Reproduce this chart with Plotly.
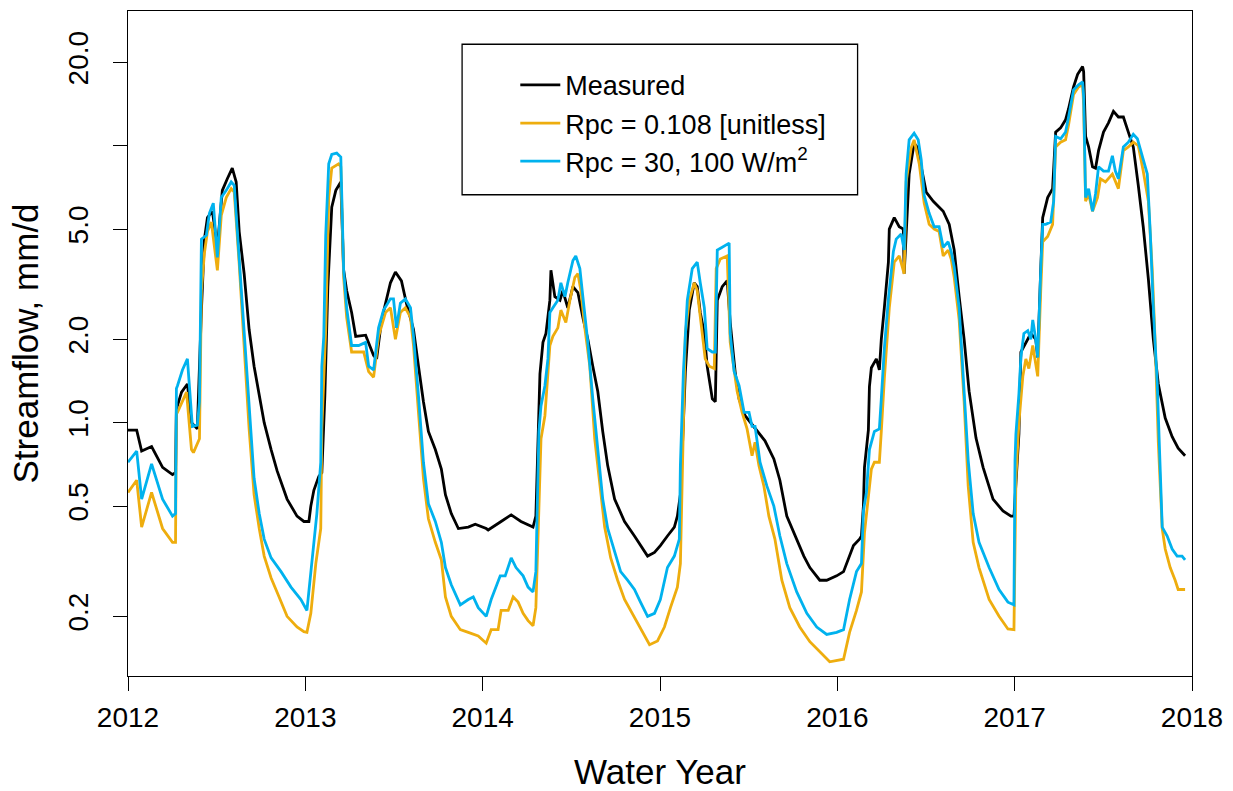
import plotly.graph_objects as go

# ---------------- data ----------------
measured_year = [
    2012.000, 2012.049, 2012.077, 2012.133, 2012.195, 2012.251, 2012.268, 2012.273, 2012.302, 2012.335,
    2012.358, 2012.391, 2012.414, 2012.431, 2012.448, 2012.476, 2012.504, 2012.532, 2012.560, 2012.588,
    2012.610, 2012.627, 2012.655, 2012.683, 2012.711, 2012.740, 2012.768, 2012.807, 2012.841, 2012.897,
    2012.953, 2012.992, 2013.020, 2013.031, 2013.048, 2013.076, 2013.093, 2013.110, 2013.127, 2013.149,
    2013.172, 2013.200, 2013.216, 2013.233, 2013.261, 2013.284, 2013.340, 2013.385, 2013.402, 2013.430,
    2013.480, 2013.508, 2013.542, 2013.570, 2013.610, 2013.638, 2013.666, 2013.694, 2013.733, 2013.767,
    2013.790, 2013.823, 2013.863, 2013.919, 2013.958, 2014.020, 2014.031, 2014.104, 2014.161, 2014.216,
    2014.284, 2014.300, 2014.312, 2014.323, 2014.340, 2014.357, 2014.379, 2014.385, 2014.407, 2014.436,
    2014.452, 2014.480, 2014.509, 2014.537, 2014.565, 2014.593, 2014.621, 2014.649, 2014.677, 2014.705,
    2014.744, 2014.800, 2014.856, 2014.890, 2014.930, 2014.969, 2015.002, 2015.042, 2015.081, 2015.098,
    2015.115, 2015.132, 2015.143, 2015.165, 2015.193, 2015.210, 2015.227, 2015.250, 2015.266, 2015.295,
    2015.312, 2015.323, 2015.351, 2015.379, 2015.396, 2015.424, 2015.446, 2015.480, 2015.547, 2015.592,
    2015.642, 2015.676, 2015.715, 2015.771, 2015.811, 2015.845, 2015.901, 2015.940, 2015.996, 2016.035,
    2016.069, 2016.091, 2016.125, 2016.136, 2016.147, 2016.153, 2016.175, 2016.181, 2016.192, 2016.220,
    2016.237, 2016.248, 2016.265, 2016.288, 2016.293, 2016.321, 2016.349, 2016.372, 2016.377, 2016.388,
    2016.405, 2016.433, 2016.456, 2016.473, 2016.501, 2016.541, 2016.597, 2016.631, 2016.659, 2016.687,
    2016.715, 2016.743, 2016.782, 2016.822, 2016.878, 2016.934, 2016.979, 2016.996, 2017.007, 2017.019,
    2017.024, 2017.035, 2017.063, 2017.091, 2017.119, 2017.130, 2017.147, 2017.158, 2017.186, 2017.214,
    2017.231, 2017.259, 2017.287, 2017.304, 2017.332, 2017.355, 2017.383, 2017.389, 2017.400, 2017.417,
    2017.439, 2017.456, 2017.473, 2017.501, 2017.529, 2017.557, 2017.585, 2017.613, 2017.641, 2017.669,
    2017.697, 2017.725, 2017.754, 2017.782, 2017.810, 2017.849, 2017.888, 2017.922, 2017.961,
]
measured_flow = [
    0.94, 0.94, 0.79, 0.82, 0.69, 0.65, 0.66, 1.12, 1.29, 1.38,
    1.00, 0.95, 2.55, 4.6, 5.5, 5.8, 4.3, 6.9, 7.6, 8.3,
    7.4, 4.9, 3.45, 2.17, 1.6, 1.25, 1.0, 0.80, 0.67, 0.53,
    0.46, 0.44, 0.44, 0.50, 0.57, 0.64, 0.66, 1.25, 3.1, 6.0,
    6.9, 7.4, 3.55, 3.0, 2.5, 2.05, 2.07, 1.75, 1.7, 2.35,
    3.2, 3.5, 3.25, 2.7, 2.17, 1.6, 1.19, 0.93, 0.80, 0.68,
    0.55, 0.47, 0.415, 0.42, 0.43, 0.415, 0.41, 0.44, 0.465, 0.44,
    0.42, 0.46, 0.95, 1.5, 1.95, 2.1, 2.77, 3.55, 2.85, 2.77,
    3.0, 2.6, 3.1, 2.95, 2.4, 2.0, 1.6, 1.3, 0.93, 0.70,
    0.53, 0.44, 0.39, 0.36, 0.33, 0.34, 0.36, 0.39, 0.42, 0.46,
    0.55, 1.0, 1.53, 2.55, 3.2, 3.1, 2.5, 2.1, 1.6, 1.22,
    1.19, 2.77, 3.1, 3.26, 2.3, 1.52, 1.22, 1.06, 0.93, 0.86,
    0.74, 0.62, 0.46, 0.38, 0.33, 0.30, 0.27, 0.27, 0.28, 0.29,
    0.33, 0.36, 0.38, 0.39, 0.50, 0.69, 0.94, 1.35, 1.58, 1.70,
    1.55, 2.0, 2.6, 3.8, 5.0, 5.5, 5.1, 5.0, 3.45, 5.0,
    7.9, 10.2, 9.8, 8.4, 6.8, 6.3, 5.8, 5.2, 4.2, 2.85,
    2.0, 1.3, 0.88, 0.69, 0.53, 0.48, 0.46, 0.46, 0.63, 0.80,
    0.91, 1.8, 1.95, 2.1, 2.0, 1.72, 3.55, 5.5, 6.5, 7.0,
    11.2, 11.6, 12.4, 13.6, 16.3, 18.1, 19.3, 18.5, 10.8, 9.9,
    8.4, 8.3, 9.6, 11.2, 12.1, 13.3, 12.7, 12.7, 11.2, 9.9,
    7.2, 5.1, 3.3, 2.0, 1.38, 1.04, 0.89, 0.81, 0.76,
]

rpc_unitless_year = [
    2012.000, 2012.049, 2012.077, 2012.133, 2012.195, 2012.251, 2012.268, 2012.273, 2012.279, 2012.330,
    2012.358, 2012.369, 2012.403, 2012.414, 2012.431, 2012.448, 2012.470, 2012.504, 2012.526, 2012.554,
    2012.582, 2012.599, 2012.627, 2012.655, 2012.683, 2012.711, 2012.740, 2012.768, 2012.807, 2012.852,
    2012.897, 2012.953, 2012.992, 2013.009, 2013.031, 2013.059, 2013.087, 2013.093, 2013.115, 2013.132,
    2013.149, 2013.188, 2013.200, 2013.216, 2013.233, 2013.261, 2013.329, 2013.357, 2013.385, 2013.413,
    2013.452, 2013.480, 2013.508, 2013.536, 2013.564, 2013.593, 2013.610, 2013.638, 2013.666, 2013.694,
    2013.733, 2013.767, 2013.790, 2013.823, 2013.874, 2013.919, 2013.975, 2014.020, 2014.048, 2014.087,
    2014.104, 2014.144, 2014.172, 2014.200, 2014.228, 2014.256, 2014.284, 2014.300, 2014.317, 2014.329,
    2014.351, 2014.368, 2014.379, 2014.396, 2014.424, 2014.441, 2014.469, 2014.492, 2014.520, 2014.537,
    2014.554, 2014.576, 2014.604, 2014.632, 2014.660, 2014.688, 2014.722, 2014.761, 2014.800, 2014.834,
    2014.873, 2014.913, 2014.941, 2014.986, 2015.025, 2015.059, 2015.098, 2015.115, 2015.132, 2015.143,
    2015.165, 2015.193, 2015.210, 2015.227, 2015.255, 2015.278, 2015.306, 2015.317, 2015.340, 2015.379,
    2015.396, 2015.435, 2015.463, 2015.491, 2015.519, 2015.536, 2015.558, 2015.586, 2015.614, 2015.648,
    2015.687, 2015.732, 2015.788, 2015.845, 2015.923, 2015.957, 2016.035, 2016.069, 2016.108, 2016.136,
    2016.153, 2016.175, 2016.192, 2016.209, 2016.237, 2016.248, 2016.265, 2016.293, 2016.321, 2016.349,
    2016.377, 2016.388, 2016.416, 2016.433, 2016.462, 2016.490, 2016.518, 2016.546, 2016.574, 2016.597,
    2016.625, 2016.642, 2016.659, 2016.687, 2016.715, 2016.738, 2016.766, 2016.799, 2016.856, 2016.912,
    2016.962, 2016.996, 2017.002, 2017.007, 2017.024, 2017.046, 2017.063, 2017.080, 2017.102, 2017.130,
    2017.147, 2017.158, 2017.186, 2017.214, 2017.231, 2017.259, 2017.287, 2017.304, 2017.332, 2017.360,
    2017.383, 2017.389, 2017.400, 2017.417, 2017.439, 2017.467, 2017.484, 2017.512, 2017.551, 2017.585,
    2017.613, 2017.641, 2017.669, 2017.697, 2017.725, 2017.754, 2017.776, 2017.793, 2017.810, 2017.832,
    2017.849, 2017.877, 2017.905, 2017.922, 2017.961,
]
rpc_unitless_flow = [
    0.56, 0.62, 0.42, 0.56, 0.415, 0.37, 0.37, 1.09, 1.09, 1.29,
    0.80, 0.78, 0.875, 3.0, 4.1, 4.9, 5.3, 3.55, 5.6, 6.5,
    7.0, 6.8, 3.75, 1.9, 0.95, 0.55, 0.415, 0.33, 0.275, 0.235,
    0.20, 0.183, 0.176, 0.175, 0.205, 0.31, 0.415, 0.95, 2.17, 6.5,
    8.3, 8.6, 8.4, 3.35, 2.4, 1.8, 1.8, 1.53, 1.46, 2.05,
    2.5, 2.6, 2.0, 2.5, 2.6, 2.4, 1.9, 1.09, 0.63, 0.45,
    0.37, 0.32, 0.235, 0.20, 0.179, 0.175, 0.17, 0.16, 0.179, 0.179,
    0.21, 0.21, 0.235, 0.225, 0.205, 0.193, 0.185, 0.215, 0.53, 0.875,
    1.06, 1.53, 1.9, 2.05, 2.2, 2.55, 2.3, 2.77, 3.35, 3.45,
    3.0, 2.2, 1.6, 0.875, 0.62, 0.42, 0.325, 0.27, 0.23, 0.21,
    0.19, 0.17, 0.158, 0.163, 0.183, 0.215, 0.255, 0.31, 0.93, 2.1,
    2.77, 3.2, 3.0, 2.4, 1.7, 1.6, 1.57, 3.6, 3.9, 4.0,
    1.95, 1.3, 1.09, 0.95, 0.76, 0.85, 0.70, 0.59, 0.46, 0.38,
    0.27, 0.215, 0.183, 0.162, 0.145, 0.137, 0.14, 0.175, 0.21, 0.245,
    0.40, 0.53, 0.68, 0.72, 0.72, 0.93, 1.44, 2.6, 3.8, 4.0,
    3.45, 7.4, 9.8, 10.5, 8.6, 6.2, 5.2, 5.0, 4.9, 4.0,
    4.2, 3.9, 3.35, 2.35, 1.19, 0.59, 0.37, 0.30, 0.23, 0.20,
    0.18, 0.179, 0.45, 0.63, 1.0, 1.47, 1.7, 1.57, 1.9, 1.47,
    3.0, 4.5, 4.7, 5.2, 9.9, 10.3, 10.5, 11.9, 15.3, 16.3,
    16.6, 14.0, 6.3, 6.7, 5.8, 6.5, 7.6, 7.4, 7.9, 7.0,
    9.6, 9.9, 10.3, 10.0, 8.1, 6.3, 3.55, 1.9, 0.85, 0.415,
    0.35, 0.30, 0.27, 0.25, 0.25,
]

rpc_energy_year = [
    2012.000, 2012.049, 2012.077, 2012.133, 2012.195, 2012.251, 2012.268, 2012.273, 2012.279, 2012.307,
    2012.335, 2012.363, 2012.391, 2012.403, 2012.414, 2012.442, 2012.459, 2012.481, 2012.504, 2012.526,
    2012.554, 2012.582, 2012.599, 2012.627, 2012.655, 2012.683, 2012.711, 2012.740, 2012.768, 2012.807,
    2012.863, 2012.919, 2012.975, 2013.009, 2013.037, 2013.065, 2013.087, 2013.093, 2013.104, 2013.115,
    2013.132, 2013.149, 2013.177, 2013.200, 2013.216, 2013.233, 2013.261, 2013.301, 2013.340, 2013.357,
    2013.385, 2013.413, 2013.441, 2013.480, 2013.497, 2013.514, 2013.536, 2013.564, 2013.593, 2013.610,
    2013.638, 2013.666, 2013.694, 2013.733, 2013.767, 2013.790, 2013.823, 2013.874, 2013.919, 2013.947,
    2013.975, 2014.020, 2014.048, 2014.099, 2014.127, 2014.161, 2014.188, 2014.228, 2014.256, 2014.284,
    2014.300, 2014.317, 2014.329, 2014.351, 2014.368, 2014.379, 2014.396, 2014.424, 2014.441, 2014.464,
    2014.480, 2014.509, 2014.525, 2014.548, 2014.565, 2014.593, 2014.621, 2014.649, 2014.677, 2014.705,
    2014.744, 2014.778, 2014.817, 2014.856, 2014.890, 2014.930, 2014.969, 2015.002, 2015.042, 2015.081,
    2015.109, 2015.115, 2015.132, 2015.154, 2015.182, 2015.210, 2015.227, 2015.250, 2015.266, 2015.295,
    2015.312, 2015.323, 2015.351, 2015.390, 2015.396, 2015.418, 2015.446, 2015.474, 2015.502, 2015.519,
    2015.536, 2015.564, 2015.603, 2015.642, 2015.676, 2015.715, 2015.771, 2015.828, 2015.884, 2015.940,
    2015.996, 2016.035, 2016.069, 2016.108, 2016.136, 2016.147, 2016.164, 2016.181, 2016.209, 2016.237,
    2016.248, 2016.265, 2016.288, 2016.316, 2016.332, 2016.360, 2016.377, 2016.388, 2016.405, 2016.433,
    2016.456, 2016.473, 2016.490, 2016.518, 2016.546, 2016.574, 2016.597, 2016.625, 2016.642, 2016.659,
    2016.687, 2016.715, 2016.738, 2016.766, 2016.799, 2016.856, 2016.912, 2016.962, 2016.996, 2017.002,
    2017.007, 2017.024, 2017.035, 2017.052, 2017.074, 2017.091, 2017.102, 2017.119, 2017.130, 2017.147,
    2017.158, 2017.175, 2017.203, 2017.220, 2017.231, 2017.259, 2017.287, 2017.304, 2017.332, 2017.360,
    2017.383, 2017.389, 2017.400, 2017.417, 2017.439, 2017.456, 2017.473, 2017.501, 2017.529, 2017.551,
    2017.568, 2017.585, 2017.613, 2017.641, 2017.669, 2017.692, 2017.720, 2017.748, 2017.765, 2017.782,
    2017.804, 2017.821, 2017.832, 2017.860, 2017.888, 2017.916, 2017.944, 2017.961,
]
rpc_energy_flow = [
    0.72, 0.79, 0.53, 0.71, 0.53, 0.46, 0.47, 1.33, 1.36, 1.55,
    1.70, 0.97, 0.98, 1.19, 4.6, 4.75, 5.7, 6.2, 3.95, 6.5,
    6.9, 7.4, 7.2, 3.95, 2.17, 1.09, 0.63, 0.47, 0.38, 0.325,
    0.29, 0.255, 0.23, 0.21, 0.32, 0.47, 0.72, 1.6, 2.05, 4.75,
    8.6, 9.3, 9.4, 9.1, 3.55, 2.6, 1.9, 1.9, 1.95, 1.6,
    1.55, 2.2, 2.55, 2.8, 2.8, 2.2, 2.7, 2.8, 2.6, 2.05,
    1.25, 0.72, 0.51, 0.44, 0.37, 0.30, 0.26, 0.22, 0.23, 0.235,
    0.215, 0.20, 0.23, 0.28, 0.28, 0.325, 0.30, 0.28, 0.255, 0.245,
    0.29, 0.93, 1.15, 1.36, 1.7, 2.5, 2.6, 2.77, 3.2, 2.85,
    3.2, 3.85, 4.0, 3.6, 2.85, 1.95, 1.22, 0.80, 0.53, 0.415,
    0.34, 0.29, 0.27, 0.25, 0.225, 0.20, 0.205, 0.23, 0.30, 0.33,
    0.38, 0.70, 1.53, 2.77, 3.6, 3.8, 3.2, 2.6, 1.85, 1.8,
    1.8, 4.2, 4.3, 4.45, 2.1, 1.53, 1.36, 1.09, 1.09, 0.97,
    0.97, 0.72, 0.59, 0.50, 0.39, 0.31, 0.245, 0.205, 0.183, 0.172,
    0.175, 0.179, 0.23, 0.29, 0.31, 0.48, 0.56, 0.80, 0.93, 0.95,
    1.22, 1.85, 2.8, 4.15, 4.6, 4.8, 4.2, 7.9, 10.5, 11.1,
    10.5, 8.9, 6.6, 5.7, 5.1, 5.1, 4.3, 4.5, 4.15, 3.65,
    2.6, 1.35, 0.73, 0.47, 0.37, 0.30, 0.25, 0.225, 0.22, 0.73,
    0.91, 1.27, 1.72, 2.1, 2.15, 2.0, 2.35, 2.0, 1.72, 3.55,
    5.2, 5.2, 5.3, 6.3, 10.8, 10.6, 11.2, 12.7, 15.9, 16.6,
    17.0, 15.0, 6.5, 7.0, 5.8, 6.7, 8.4, 8.1, 8.1, 9.2,
    8.1, 7.6, 9.9, 10.3, 11.0, 10.6, 9.2, 7.9, 4.8, 2.6,
    1.38, 0.73, 0.42, 0.39, 0.35, 0.33, 0.33, 0.32,
]

series_names = ["Measured", "Rpc = 0.108 [unitless]", "Rpc = 30, 100 W/m<sup>2</sup>"]
series_colors = ["#000000", "#EEAD0E", "#00B2EE"]

x_ticks = [2012, 2013, 2014, 2015, 2016, 2017, 2018]
y_ticks = [0.2, 0.5, 1.0, 2.0, 5.0, 20.0]
y_tick_labels = ["0.2", "0.5", "1.0", "2.0", "5.0", "20.0"]
y_unlabelled_ticks = [10.0]

# ---------------- figure ----------------
FONT = "Liberation Sans, Arial, sans-serif"
fig = go.Figure()
for xs, ys, name, col in zip(
    [measured_year, rpc_unitless_year, rpc_energy_year],
    [measured_flow, rpc_unitless_flow, rpc_energy_flow],
    series_names, series_colors,
):
    fig.add_trace(go.Scatter(x=xs, y=ys, mode="lines", name=name,
                             line=dict(color=col, width=2.8)))

fig.update_layout(
    width=1233, height=791,
    margin=dict(l=128, r=36, t=10, b=115),
    paper_bgcolor="white", plot_bgcolor="white",
    font=dict(family=FONT, size=28, color="black"),
    showlegend=True,
    legend=dict(x=0.364, y=0.925, xanchor="left", yanchor="top",
                bgcolor="rgba(0,0,0,0)", borderwidth=0,
                font=dict(size=27, family=FONT), tracegroupgap=0,
                itemwidth=40),
    xaxis=dict(range=[2012, 2018], tickvals=x_ticks, ticktext=[str(v) for v in x_ticks],
               ticks="outside", ticklen=14, tickwidth=1.3, tickcolor="black",
               ticklabelstandoff=2,
               showline=True, linecolor="black", linewidth=1.3, mirror=True,
               showgrid=False, zeroline=False, tickfont=dict(size=28)),
    yaxis=dict(type="log", range=[-0.9144, 1.4864], tickvals=y_ticks, ticktext=y_tick_labels,
               ticks="outside", ticklen=14, tickwidth=1.3, tickcolor="black", tickangle=-90,
               ticklabelstandoff=14,
               minor=dict(tickvals=y_unlabelled_ticks, ticks="outside", ticklen=14,
                          tickwidth=1.3, tickcolor="black", showgrid=False),
               showline=True, linecolor="black", linewidth=1.3, mirror=True,
               showgrid=False, zeroline=False, tickfont=dict(size=28)),
    shapes=[dict(type="rect", xref="paper", yref="paper",
                 x0=0.314, x1=0.6857, y0=0.7237, y1=0.950,
                 line=dict(color="black", width=1.3), fillcolor="rgba(0,0,0,0)")],
    annotations=[
        dict(text="Water Year", xref="paper", yref="paper", x=0.5, y=0,
             xanchor="center", yanchor="middle", yshift=-95, showarrow=False,
             font=dict(size=35, family=FONT)),
        dict(text="Streamflow, mm/d", xref="paper", yref="paper", x=0, y=0.5,
             xanchor="center", yanchor="middle", xshift=-103, textangle=-90,
             showarrow=False, font=dict(size=35, family=FONT)),
    ],
)

fig.write_html(
    "out.html",
    config={"displayModeBar": False},
    post_script="document.body.style.margin='0px';document.body.style.overflow='hidden';",
)
